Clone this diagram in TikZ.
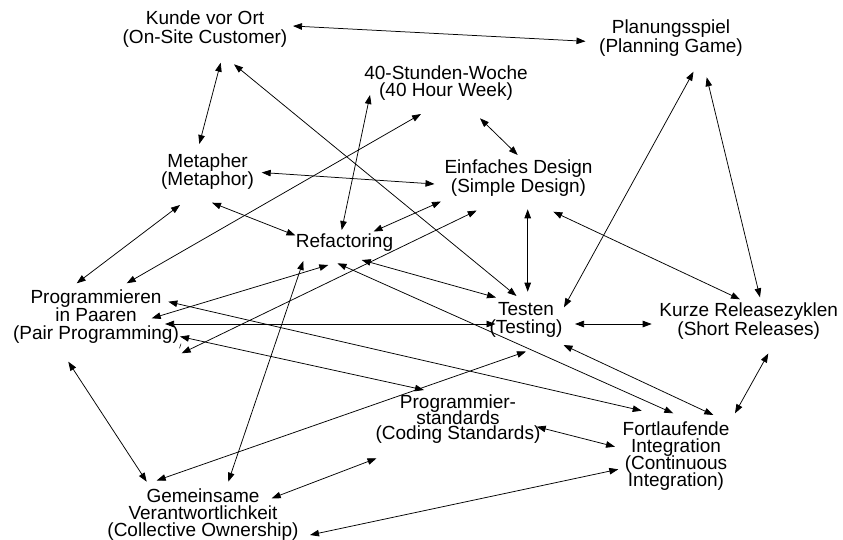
\documentclass[tikz,border=0pt]{standalone}
\usepackage{fontspec}
\setmainfont{Liberation Sans}
\usetikzlibrary{arrows.meta,calc}
\begin{document}
\lineskiplimit=-\maxdimen
\begin{tikzpicture}[x=1pt,y=-1pt,
  practice/.style={align=center,inner sep=0pt,font=\fontsize{19}{#1}\selectfont},
  practice/.default=19,
  tip/.tip={Triangle[length=9pt,width=6.5pt]},
  link/.style={tip-tip,line width=0.75pt}]
\useasboundingbox (0,0) rectangle (843,539);
\fill[white] (0,0) rectangle (843,539);

% XP practices
\node[practice] (kunde) at (205,28.6) {Kunde vor Ort\\(On-Site Customer)};
\node[practice] (plan) at (671,37.9) {Planungsspiel\\(Planning Game)};
\node[practice=17.2] (week) at (446,83) {40-Stunden-Woche\\(40 Hour Week)};
\node[practice=18.7] (meta) at (207.6,171.5) {Metapher\\(Metaphor)};
\node[practice] (design) at (518.5,177.6) {Einfaches Design\\(Simple Design)};
\node[practice] (refac) at (344.5,242.2) {Refactoring};
\node[practice=17.7] (pair) at (96,316.7) {Programmieren\\in Paaren\\(Pair Programming)};
\node[practice=18.8] (test) at (526,320) {Testen\\(Testing)};
\node[practice] (release) at (748.7,320.6) {Kurze Releasezyklen\\(Short Releases)};
\node[practice=15.2] (stand) at (458,419.2) {Programmier-\\standards\\(Coding Standards)};
\node[practice=17.2] (integ) at (676,456) {Fortlaufende\\Integration\\(Continuous\\Integration)};
\node[practice=17] (owner) at (203,514.8) {Gemeinsame\\Verantwortlichkeit\\(Collective Ownership)};

% mutual support between practices
\draw[link] ($(kunde)+(88,-2.6)$) -- ($(plan)+(-85.5,3.4)$);
\draw[link] ($(kunde)+(15.7,34.1)$) -- ($(meta)+(-8.3,-27.5)$);
\draw[link] ($(kunde)+(29,35.7)$) -- ($(test)+(-9.5,-24)$);
\draw[link] ($(week)+(-76,12)$) -- ($(refac)+(-2.8,-12.2)$);
\draw[link] ($(week)+(-25,31)$) -- ($(pair)+(30.7,-33.4)$);
\draw[link] ($(week)+(34,35.3)$) -- ($(design)+(-0.8,-22.6)$);
\draw[link] ($(meta)+(54.1,1)$) -- ($(design)+(-84,6.4)$);
\draw[link] ($(meta)+(4.4,31.2)$) -- ($(refac)+(-49,-6.7)$);
\draw[link] ($(meta)+(-27.6,33.5)$) -- ($(pair)+(-19.3,-33.4)$);
\draw[link] ($(refac)+(29,-10.7)$) -- ($(design)+(-77.5,23.9)$);
\draw[link] ($(design)+(-41.8,32.9)$) -- ($(pair)+(85.7,36.6)$);
\draw[link] ($(design)+(9.2,31.7)$) -- ($(test)+(1.7,-28.3)$);
\draw[link] ($(design)+(34.8,34.1)$) -- ($(release)+(-8.7,-21.3)$);
\draw[link] ($(plan)+(22.5,33.8)$) -- ($(test)+(38,-12.7)$);
\draw[link] ($(plan)+(35.7,39.4)$) -- ($(release)+(11.3,-23.3)$);
\draw[link] ($(refac)+(17.2,17.8)$) -- ($(test)+(-30,-22.5)$);
\draw[link] ($(refac)+(-16.2,22.8)$) -- ($(pair)+(55.7,1.6)$);
\draw[link] ($(refac)+(-41.2,18.8)$) -- ($(owner)+(25.3,-33.1)$);
\draw[link] ($(refac)+(-7,21.1)$) -- ($(integ)+(-2.7,-42.7)$);
\draw[link] ($(test)+(37.5,25)$) -- ($(integ)+(37.3,-41)$);
\draw[link] ($(pair)+(69,7.3)$) -- ($(test)+(-30.5,4)$);
\draw[link] ($(test)+(49,4)$) -- ($(release)+(-97,3.4)$);
\draw[link] ($(test)+(0,31.5)$) -- ($(owner)+(-46.3,-34.3)$);
\draw[link] ($(pair)+(72.3,-15)$) -- ($(integ)+(-34.3,-45.3)$);
\draw[link] ($(pair)+(84,19.8)$) -- ($(stand)+(-34,-29.2)$);
\draw[link] ($(pair)+(-27.7,45)$) -- ($(owner)+(-56.3,-33.1)$);
\draw[link] ($(stand)+(78.7,7.5)$) -- ($(integ)+(-61,-9.3)$);
\draw[link] ($(stand)+(-81.5,39.1)$) -- ($(owner)+(68.7,-16.5)$);
\draw[link] ($(owner)+(107,20.2)$) -- ($(integ)+(-57.7,13.3)$);
\draw[link] ($(release)+(19.6,32.9)$) -- ($(integ)+(59,-42.7)$);

% small stray stroke beside an arrow tip
\draw[line width=0.6pt] ($(pair)+(85,27)$) -- ($(pair)+(83.5,31.5)$);
\end{tikzpicture}
\end{document}
